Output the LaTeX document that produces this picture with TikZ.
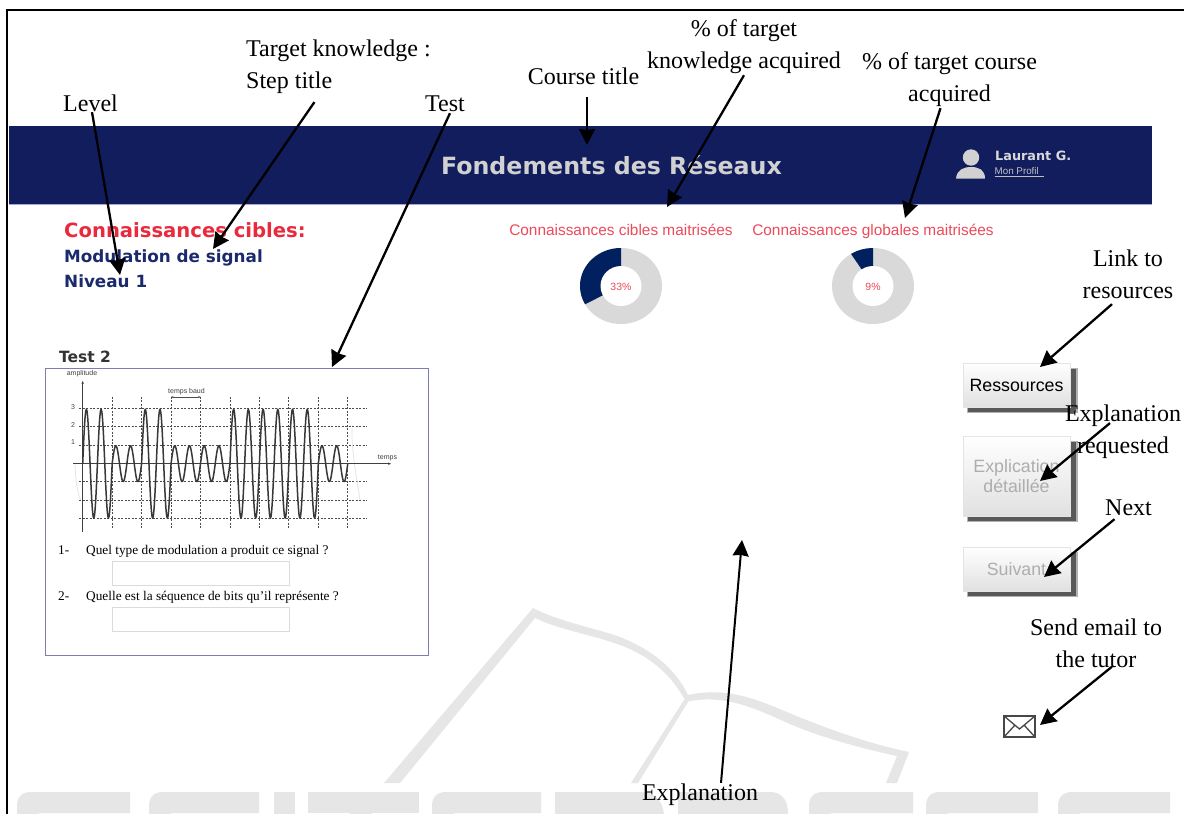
\documentclass[tikz,border=0pt]{standalone}
\usepackage{fontspec}
\setmainfont{Liberation Serif}
\newfontfamily\uibold{DejaVu Sans Bold}
\newfontfamily\uisans{Liberation Sans}
\usetikzlibrary{arrows.meta,calc}
\definecolor{banner}{HTML}{121D5E}
\definecolor{navytxt}{HTML}{1B2A6B}
\definecolor{redtxt}{HTML}{EA2A3C}
\definecolor{donutnavy}{HTML}{002060}
\definecolor{donutgray}{HTML}{D9D9D9}
\definecolor{wmark}{HTML}{E6E6E6}
\definecolor{framepurple}{HTML}{7E7CB4}
\tikzset{
  lbl/.style={inner sep=0pt,font=\fontsize{24}{32}\selectfont,text=black},
  callout/.style={-{Stealth[length=16pt,width=16pt,inset=1pt]},line width=2.3pt,black},
  uibtn/.style={draw=black!10,line width=.8pt,top color=white,bottom color=black!12,minimum width=107pt,inner sep=0pt,align=center,font=\uisans\fontsize{17.8}{20.5}\selectfont},
  markstroke/.style={draw=none,fill=wmark},
  qtext/.style={inner sep=0pt,anchor=base west,font=\fontsize{13.3}{15}\selectfont},
  tinytxt/.style={inner sep=0pt,font=\uisans\fontsize{7}{8}\selectfont,text=black!75},
  griddash/.style={black!70,line width=.9pt,dash pattern=on 2pt off 1.5pt},
  inbox/.style={draw=black!14,line width=.8pt,minimum width=177pt,minimum height=24pt,inner sep=0pt},
}
\begin{document}
\begin{tikzpicture}[x=1pt,y=-1pt]
\useasboundingbox (0,0) rectangle (1184,814);
\fill[white] (0,0) rectangle (1184,814);
% watermark: book outline
\fill[markstroke] (384,783) -- (533,608) .. controls (560,622) and (595,628) .. (620,637) .. controls (652,650) and (675,668) .. (688,695) .. controls (720,688) and (745,695) .. (775,707) .. controls (810,722) and (860,742) .. (909,752) -- (897,783) -- (886,783) -- (897,756) .. controls (860,748) and (815,736) .. (781,720) .. controls (750,706) and (720,694) .. (686,702) .. controls (672,675) and (650,656) .. (620,645) .. controls (590,634) and (560,630) .. (535,618) -- (400,783) -- cycle;
\fill[markstroke] (684,700) -- (688,702) -- (638,783) -- (631,783) -- cycle;
% watermark: tops of the big letters
\foreach \a/\b in {17/130,149/259,432/541,809/913,926/1038,1058/1170}{
  \fill[markstroke] (\a,814) -- (\a,806) .. controls (\a,797) and (\a+5,792) .. (\a+14,792) -- (\b,792) -- (\b,813) -- (\a+24,813) -- (\a+20,814) -- cycle;
}
\fill[markstroke] (274,792) rectangle (295,814);
\fill[markstroke] (308,792) rectangle (419,813);
\fill[markstroke] (350,813) rectangle (372,814);
\fill[markstroke] (555,792) -- (640,792) .. controls (655,792) and (662,800) .. (664,814) -- (555,814) -- cycle;
\fill[markstroke] (678,792) -- (770,792) .. controls (782,792) and (788,800) .. (788,814) -- (678,814) -- cycle;
% frame
\draw[black,line width=2pt] (7,814) -- (7,10) -- (1184,10);
% banner
\fill[banner] (9,126) rectangle (1152,203.5);
\draw[black!35!blue!35!white,line width=1pt] (9,204) -- (1152,204);
\node[inner sep=0pt,text=black!18,font=\uibold\fontsize{23.7}{26}\selectfont] (coursetitle) at (611.5,165.5) {Fondements des Réseaux};
% user icon
\fill[black!18] (971,157.5) circle (8.2);
\fill[black!18] (956,178.5) .. controls (957,170) and (963,167) .. (971,167) .. controls (979,167) and (985,170) .. (985,178.5) -- cycle;
\node[inner sep=0pt,anchor=west,text=black!15,font=\uibold\fontsize{12.8}{14}\selectfont] (user) at (995,155.5) {Laurant G.};
\node[inner sep=0pt,anchor=west,text=black!25,font=\uisans\fontsize{9.8}{11}\selectfont] (profil) at (994.5,170.5) {Mon Profil};
\draw[black!25,line width=.6pt] (994.5,176.5) -- (1044,176.5);
% left header
\node[inner sep=0pt,anchor=base west,text=redtxt,font=\uibold\fontsize{19.6}{22}\selectfont] (cibles) at (64,237) {Connaissances cibles:};
\node[inner sep=0pt,anchor=base west,text=navytxt,font=\uibold\fontsize{16.8}{20}\selectfont] (step) at (64,262.5) {Modulation de signal};
\node[inner sep=0pt,anchor=base west,text=navytxt,font=\uibold\fontsize{16.8}{20}\selectfont] (niveau) at (64,287) {Niveau 1};
% donuts
\node[inner sep=0pt,anchor=base,text=redtxt!85,font=\uisans\fontsize{15.4}{18}\selectfont] (d1title) at (621,235) {Connaissances cibles maitrisées};
\node[inner sep=0pt,anchor=base,text=redtxt!85,font=\uisans\fontsize{15.4}{18}\selectfont] (d2title) at (873,235) {Connaissances globales maitrisées};
\foreach \cx/\pct in {621/33,873/9}{
  \pgfmathsetmacro{\endang}{90+3.6*\pct}
  \fill[donutgray] (\cx,286) ellipse [x radius=41,y radius=38];
  \fill[donutnavy] (\cx,286) -- (\cx,248) arc [start angle=90,end angle=\endang,x radius=41,y radius=-38] -- cycle;
  \fill[white] (\cx,286) ellipse [x radius=20.5,y radius=20];
}
\node[inner sep=0pt,text=redtxt!85,font=\uisans\fontsize{10.5}{12}\selectfont] (p1) at (621,286.5) {33\%};
\node[inner sep=0pt,text=redtxt!85,font=\uisans\fontsize{10.5}{12}\selectfont] (p2) at (873,286.5) {9\%};
% test panel
\node[inner sep=0pt,anchor=west,text=black!80,font=\uibold\fontsize{15.5}{17}\selectfont] (testtitle) at (59,357) {Test 2};
\draw[framepurple,line width=1pt] (45,368.5) rectangle (428,655);
\coordinate (testtop) at (332,367);
% chart
\foreach \y in {408,426.7,445.7,481.7,500,518}{\draw[griddash] (79,\y) -- (366.7,\y);}
\foreach \i in {1,...,9}{\draw[griddash] ({82.7+29.45*\i},396.7) -- ({82.7+29.45*\i},529);}
\draw[black!10,line width=.8pt] (75,465) .. controls (76,485) and (78,495) .. (81,500);
\draw[black!10,line width=.8pt] (352,428) .. controls (351,450) and (358,485) .. (360,500);
\draw[black!75,line width=1pt,-{Stealth[length=3pt,width=2.5pt]}] (82.7,532) -- (82.7,381);
\draw[black!75,line width=1pt,-{Stealth[length=3pt,width=2.5pt]}] (73,463.7) -- (391,463.7);
\foreach \n/\amp in {0/54.5,1/18,2/54.5,3/18,4/18,5/54.5,6/54.5,7/54.5,8/18}{
  \draw[black!78,line width=1.5pt,line join=round] plot[domain=0:1,samples=49,smooth,variable=\t] ({82.7+29.45*\n+29.45*\t},{463.7-\amp*sin(\t*720)});
}
\node[tinytxt] (amp) at (82,373.5) {amplitude};
\node[tinytxt] (baud) at (186.5,391.5) {temps baud};
\node[tinytxt] (temps) at (387.5,458) {temps};
\node[tinytxt] (n3) at (73,407.5) {3};
\node[tinytxt] (n2) at (73,425.5) {2};
\node[tinytxt] (n1) at (73,442.5) {1};
\draw[black!70,line width=.6pt,{Stealth[length=2.5pt,width=2pt]}-{Stealth[length=2.5pt,width=2pt]}] (171,397) -- (200.7,397);
\node[qtext] (q1n) at (58,554) {1-};
\node[qtext] (q1) at (86,554) {Quel type de modulation a produit ce signal ?};
\node[inbox] (a1) at (201,573.7) {};
\node[qtext] (q2n) at (58,600) {2-};
\node[qtext] (q2) at (86,600) {Quelle est la séquence de bits qu'il représente ?};
\node[inbox] (a2) at (201,619.7) {};
% buttons
\foreach \ya/\yb in {363/407,436/516,547/591}{
  \fill[black!30] (967,\ya+5) rectangle (1077.5,\yb+6);
  \fill[black!65] (968,\ya+6) rectangle (1075.5,\yb+4.5);
}
\node[uibtn,minimum height=44pt] (res) at (1016.5,385) {Ressources};
\node[uibtn,minimum height=80pt,text=black!32] (expl) at (1016.5,476) {Explication\\détaillée};
\node[uibtn,minimum height=44pt,text=black!32] (suiv) at (1016.5,569) {Suivant};
% mail icon
\draw[black!72,line width=1.6pt,line join=miter] (1004,716) rectangle (1035,737);
\draw[black!72,line width=1.3pt] (1004,716) -- (1019.5,729) -- (1035,716) (1004,737) -- (1015,725) (1035,737) -- (1024,725);
\coordinate (mailtip) at (1040,725);
% annotation labels
\node[lbl,anchor=west,align=left] (lknow) at (246,67) {Target knowledge :\\Step title};
\node[lbl] (llevel) at (90.5,103.5) {Level};
\node[lbl] (ltest) at (445,104) {Test};
\node[lbl] (lcourse) at (583.5,76.5) {Course title};
\node[lbl,align=center] (lpk) at (744,47) {\% of target\\knowledge acquired};
\node[lbl,align=center] (lpc) at (949.5,80) {\% of target course\\acquired};
\node[lbl,align=center] (llink) at (1128,274.5) {Link to\\resources};
\node[lbl,align=center] (lreq) at (1123,432) {Explanation\\requested};
\node[lbl] (lnext) at (1128.5,508) {Next};
\node[lbl,align=center] (lmail) at (1096,643) {Send email to\\the tutor};
\node[lbl] (lexp) at (700,795) {Explanation};
% targets
\coordinate (tlevel) at (120,275);
\coordinate (tknow) at (213,249);
\coordinate (tcourse) at (587,145);
\coordinate (tpk) at (667,207);
\coordinate (tpc) at (905,218);
\coordinate (tres) at (1040,367);
\coordinate (treq) at (1040,481);
\coordinate (tnext) at (1044,577);
\coordinate (texp) at (742,540);
% connectors (yshift is canvas-up, so positive moves a start upward)
\draw[callout] ([xshift=1.5pt]llevel.south) -- (tlevel);
\draw[callout] ([xshift=-24pt,yshift=-8pt]lknow.south) -- (tknow);
\draw[callout] ([xshift=5pt,yshift=-1pt]ltest.south) -- (testtop);
\draw[callout] ([xshift=3.5pt,yshift=-12pt]lcourse.south) -- (tcourse);
\draw[callout] ([yshift=-1pt]lpk.south) -- (tpk);
\draw[callout] ([xshift=-9pt,yshift=-1pt]lpc.south) -- (tpc);
\draw[callout] ([xshift=-16pt,yshift=-5pt]llink.south) -- (tres);
\draw[callout] ([xshift=-13pt,yshift=36pt]lreq.south) -- (treq);
\draw[callout] ([xshift=-14pt,yshift=-3pt]lnext.south) -- (tnext);
\draw[callout] ([xshift=16pt,yshift=1pt]lmail.south) -- (mailtip);
\draw[callout,line width=2pt] ([xshift=21pt,yshift=1pt]lexp.north) -- (texp);
\end{tikzpicture}
\end{document}
